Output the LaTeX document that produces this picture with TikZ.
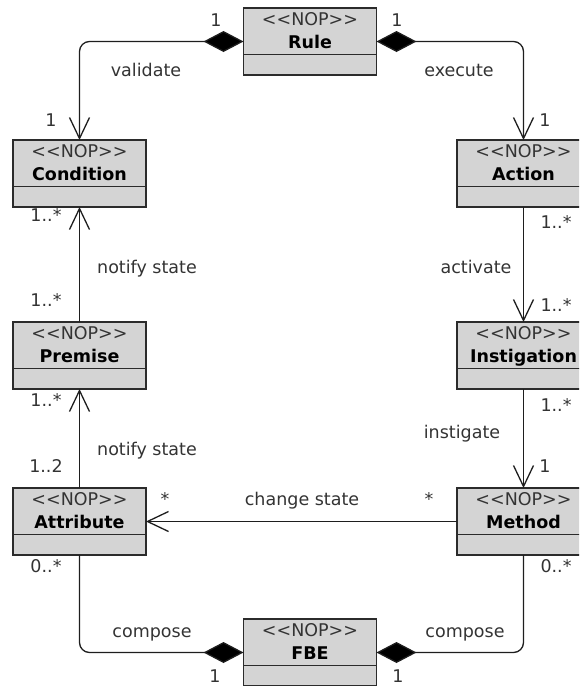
\documentclass[tikz,border=0pt]{standalone}
\usepackage{fontspec}
\setmainfont{DejaVu Sans}
\usetikzlibrary{arrows.meta}

\definecolor{boxfill}{HTML}{D4D4D4}
\definecolor{boxline}{HTML}{2B2B2B}
\definecolor{linecol}{HTML}{1E1E1E}
\definecolor{labelgray}{HTML}{333333}

\tikzset{
  classbox/.style={draw=boxline, fill=boxfill, line width=1.3pt,
    minimum width=133pt, minimum height=67pt, inner sep=0pt, outer sep=0pt, anchor=north},
  stereo/.style={anchor=base, inner sep=0pt, text=labelgray,
    font=\fontsize{17.5pt}{20pt}\selectfont},
  cname/.style={anchor=base, inner sep=0pt, text=black,
    font=\fontsize{17.5pt}{20pt}\selectfont\bfseries},
  lbl/.style={anchor=base, inner sep=0pt, text=labelgray,
    font=\fontsize{17.5pt}{20pt}\selectfont},
  assoc/.style={draw=linecol, line width=1.3pt, rounded corners=10pt},
  navtip/.style={-{Straight Barb[length=21pt,width=20pt]}},
  comptip/.style={{Diamond[length=40pt,width=21pt,fill=black]}-{Straight Barb[length=21pt,width=20pt]}},
  partof/.style={-{Diamond[length=40pt,width=21pt,fill=black]}}
}

% stereotype text, kerns keep << and >> from turning into guillemets
\newcommand\nopstereo{<\kern0pt<NOP>\kern0pt>}

% class box: name, x centre, y top, class name
\newcommand\umlclass[4]{%
  \node[classbox] (#1) at (#2,#3) {};
  \draw[boxline, line width=1.3pt] ([yshift=-46.5pt]#1.north west) -- ([yshift=-46.5pt]#1.north east);
  \node[stereo] (#1-st) at ([yshift=-17.5pt]#1.north) {\nopstereo};
  \node[cname] (#1-nm) at ([yshift=-40.5pt]#1.north) {#4};
}

\begin{document}
\begin{tikzpicture}[x=1pt, y=-1pt]
  \useasboundingbox (0,0) rectangle (579,686);
  \clip (0,0) rectangle (579,686);

  % classes
  \umlclass{rule}{310}{8}{Rule}
  \umlclass{condition}{79.5}{140}{Condition}
  \umlclass{action}{523.5}{140}{Action}
  \umlclass{premise}{79.5}{322}{Premise}
  \umlclass{instigation}{523.5}{322}{Instigation}
  \umlclass{attribute}{79.5}{488}{Attribute}
  \umlclass{method}{523.5}{488}{Method}
  \umlclass{fbe}{310}{619}{FBE}

  % associations
  \draw[assoc, comptip] (rule.west) -| (condition.north);
  \draw[assoc, comptip] (rule.east) -| (action.north);
  \draw[assoc, navtip] (premise.north) -- (condition.south);
  \draw[assoc, navtip] (action.south) -- (instigation.north);
  \draw[assoc, navtip] (attribute.north) -- (premise.south);
  \draw[assoc, navtip] (instigation.south) -- (method.north);
  \draw[assoc, navtip] (method.west) -- (attribute.east);
  \draw[assoc, partof] (attribute.south) |- (fbe.west);
  \draw[assoc, partof] (method.south) |- (fbe.east);

  % role names and multiplicities
  \node[lbl] (m-rule-l) at (216,26) {1};
  \node[lbl] (l-validate) at (146,76) {validate};
  \node[lbl] (m-cond-t) at (51,126) {1};
  \node[lbl] (m-rule-r) at (397,26) {1};
  \node[lbl] (l-execute) at (459,76) {execute};
  \node[lbl] (m-act-t) at (545,126) {1};

  \node[lbl] (m-cond-b) at (46,221) {1..*};
  \node[lbl] (l-notify1) at (147,273) {notify state};
  \node[lbl] (m-prem-t) at (46,306) {1..*};
  \node[lbl] (m-act-b) at (556,228) {1..*};
  \node[lbl] (l-activate) at (476,273) {activate};
  \node[lbl] (m-inst-t) at (556,311) {1..*};

  \node[lbl] (m-prem-b) at (46,406) {1..*};
  \node[lbl] (l-notify2) at (147,455) {notify state};
  \node[lbl] (m-attr-t) at (46,472) {1..2};
  \node[lbl] (m-inst-b) at (556,411) {1..*};
  \node[lbl] (l-instigate) at (462,438) {instigate};
  \node[lbl] (m-meth-t) at (545,472) {1};

  \node[lbl] (m-attr-r) at (165,505) {*};
  \node[lbl] (l-change) at (302,505) {change state};
  \node[lbl] (m-meth-l) at (429,505) {*};

  \node[lbl] (m-attr-b) at (46,572) {0..*};
  \node[lbl] (m-meth-b) at (556,572) {0..*};
  \node[lbl] (l-compose1) at (152,637) {compose};
  \node[lbl] (l-compose2) at (465,637) {compose};
  \node[lbl] (m-fbe-l) at (215,682) {1};
  \node[lbl] (m-fbe-r) at (398,682) {1};
\end{tikzpicture}
\end{document}
